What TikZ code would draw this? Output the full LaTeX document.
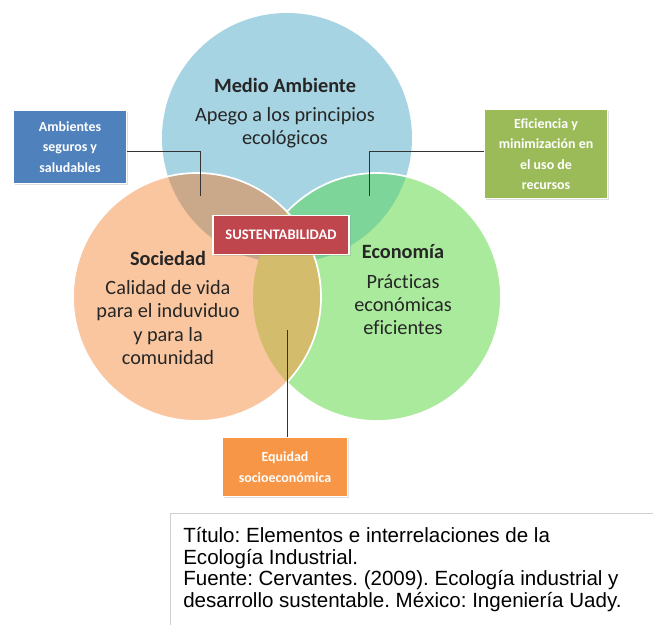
\documentclass[tikz,border=0pt]{standalone}
\usepackage{fontspec}
\setmainfont{Carlito}[Ligatures={NoCommon,TeX}]
\newfontfamily\arialfont{Liberation Sans}
\usetikzlibrary{positioning, shadows}
\frenchspacing

\definecolor{maBlue}{HTML}{A6D4E3}
\definecolor{soOrange}{HTML}{F9C6A0}
\definecolor{ecGreen}{HTML}{AAEA9C}
\definecolor{tlMix}{HTML}{C9A98A}
\definecolor{trMix}{HTML}{7DD59A}
\definecolor{bMix}{HTML}{D3BC6B}
\definecolor{redBox}{HTML}{C0464E}
\definecolor{blueBox}{HTML}{4F81BD}
\definecolor{greenBox}{HTML}{9BBB59}
\definecolor{orangeBox}{HTML}{F79646}

\begin{document}
\begin{tikzpicture}[x=0.0265cm, y=-0.0265cm,
  rim/.style={draw=white, line width=1.3pt},
  title/.style={font=\fontsize{15.3}{17}\selectfont\bfseries, text=black!85, inner sep=1pt},
  body/.style={align=center, font=\fontsize{15.3}{17.6}\selectfont, text=black!85, inner sep=1pt},
  tag/.style={align=center, text=white, font=\fontsize{10.5}{15.4}\selectfont\bfseries, draw=white, line width=1pt, inner sep=2pt,
    drop shadow={opacity=0.25, shadow xshift=1.2pt, shadow yshift=-1.2pt}},
  link/.style={draw=black!80, line width=0.6pt}
]
\fill[white] (0,0) rectangle (653,625);
\useasboundingbox (0,0) rectangle (653,625);

% centres of the three sets
\coordinate (cMA) at (287,138);
\coordinate (cSO) at (197,297);
\coordinate (cEC) at (377,297);

\fill[maBlue] (cMA) circle [radius=125];
\fill[ecGreen] (cEC) circle [radius=124];
\fill[soOrange] (cSO) circle [radius=124];
\begin{scope}
  \clip (cMA) circle [radius=125];
  \fill[tlMix] (cSO) circle [radius=124];
  \fill[trMix] (cEC) circle [radius=124];
\end{scope}
\begin{scope}
  \clip (cSO) circle [radius=124];
  \fill[bMix] (cEC) circle [radius=124];
\end{scope}
\begin{scope}[even odd rule]
  \clip (0,0) rectangle (653,625) (cSO) circle [radius=124];
  \draw[rim] (cEC) circle [radius=124];
\end{scope}
\draw[rim] (cSO) circle [radius=124];

% texts in the circles
\node[title] (maTitle) at (285,85) {Medio Ambiente};
\node[body, below=9pt of maTitle] (maText) {Apego a los principios\\ecológicos};
\node[title] (soTitle) at (168,258) {Sociedad};
\node[body, below=9pt of soTitle] (soText) {Calidad de vida\\para el induviduo\\y para la\\comunidad};
\node[title] (ecTitle) at (403,252) {Economía};
\node[body, below=9pt of ecTitle] (ecText) {Prácticas\\económicas\\eficientes};

% connector ends
\coordinate (soMa) at (200,196);
\coordinate (ecMa) at (369,196);
\coordinate (soEc) at (287,330);

\node[tag, fill=blueBox, minimum width=3.0cm, minimum height=1.93cm] (amb) at (70,147) {Ambientes\\seguros y\\saludables};
\node[tag, fill=greenBox, minimum width=3.25cm, minimum height=2.35cm] (efi) at (546,154) {Eficiencia y\\minimización en\\el uso de\\recursos};
\node[tag, fill=orangeBox, minimum width=3.3cm, minimum height=1.58cm] (equ) at (285,467) {Equidad\\socioeconómica};

\draw[link] (amb.east |- 0,151) -| (soMa);
\draw[link] (efi.west |- 0,151) -| (ecMa);
\draw[link] (soEc) -- (soEc |- equ.north);

\node[tag, fill=redBox, font=\fontsize{11}{12}\selectfont\bfseries, minimum width=3.6cm, minimum height=1.02cm] (sus) at (281,235) {SUSTENTABILIDAD};

% caption
\draw[black!18, line width=0.6pt] (170,625) |- (653,513);
\node[anchor=north west, align=left, inner sep=0pt, font=\arialfont\fontsize{15.5}{16.3}\selectfont] (cap) at (183,527)
  {Título: Elementos e interrelaciones de la\\Ecología Industrial.\\Fuente: Cervantes. (2009). Ecología industrial y\\desarrollo sustentable. México: Ingeniería Uady.};
\end{tikzpicture}
\end{document}
